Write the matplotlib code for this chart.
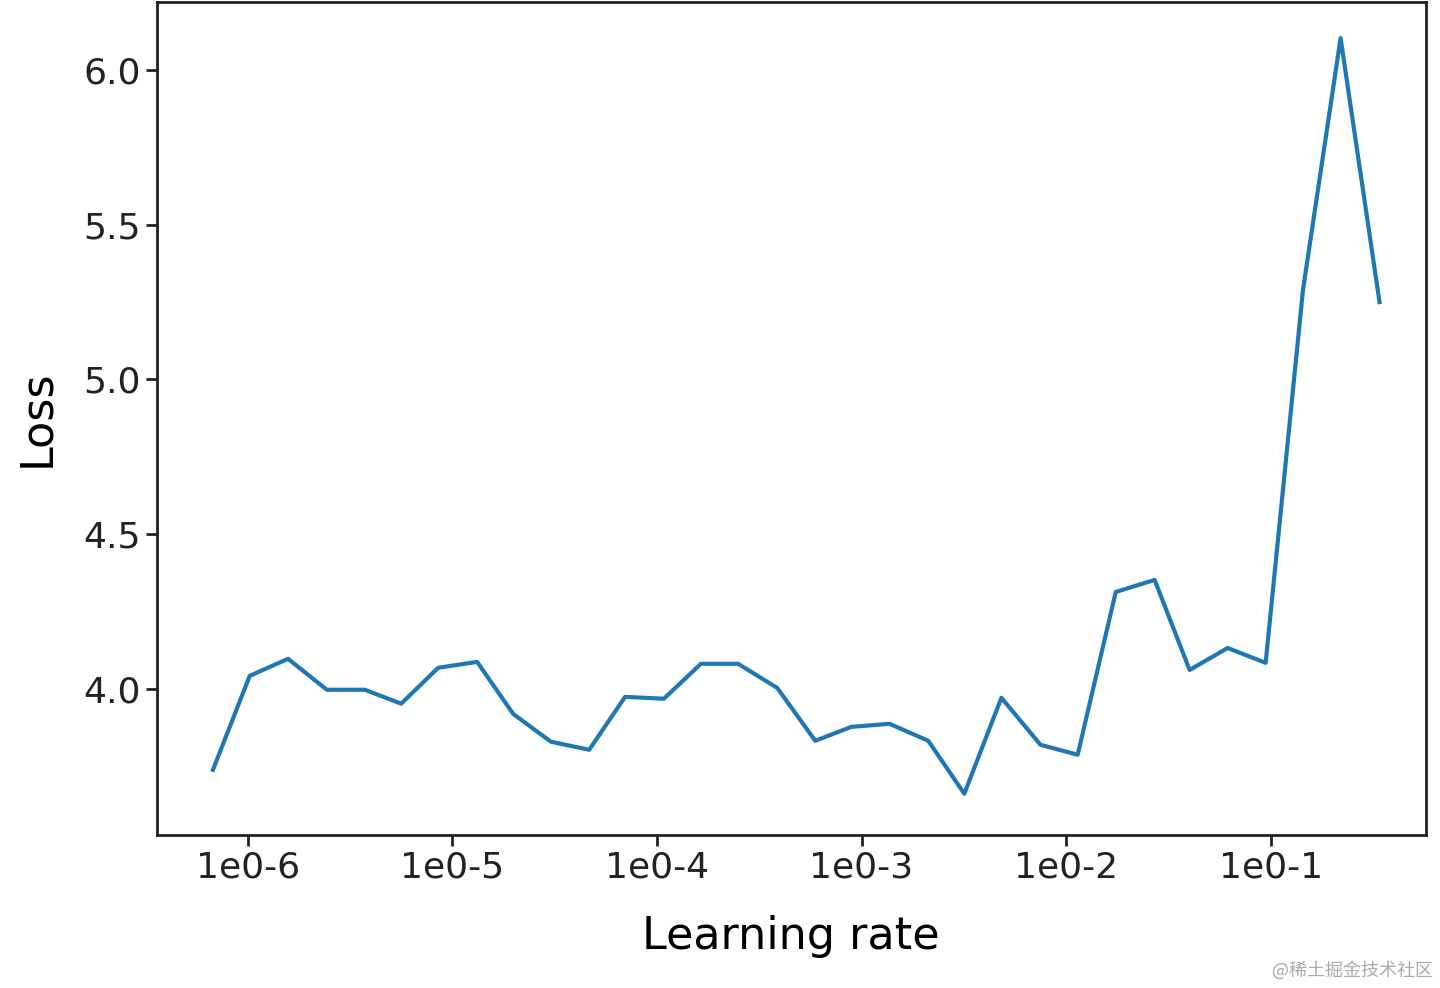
import matplotlib
matplotlib.use('Agg')
import matplotlib.pyplot as plt

lrs = [6.74e-7, 1.02e-6, 1.57e-6, 2.43e-6, 3.73e-6, 5.61e-6, 8.51e-6, 1.32e-5,
       1.98e-5, 3.03e-5, 4.66e-5, 6.98e-5, 1.08e-4, 1.64e-4, 2.49e-4, 3.87e-4,
       5.94e-4, 8.91e-4, 1.37e-3, 2.12e-3, 3.18e-3, 4.83e-3, 7.50e-3, 1.14e-2,
       1.75e-2, 2.71e-2, 4.02e-2, 6.17e-2, 9.46e-2, 0.144, 0.220, 0.341]
losses = [3.738, 4.042, 4.097, 3.997, 3.997, 3.952, 4.068, 4.087, 3.919, 3.829,
          3.803, 3.974, 3.968, 4.081, 4.081, 4.003, 3.832, 3.877, 3.887, 3.832,
          3.661, 3.971, 3.819, 3.787, 4.313, 4.352, 4.061, 4.132, 4.084, 5.289,
          6.103, 5.250]
xticks = [1e-6, 1e-5, 1e-4, 1e-3, 1e-2, 1e-1]
xticklabels = ['1e0-6', '1e0-5', '1e0-4', '1e0-3', '1e0-2', '1e0-1']
yticks = [4.0, 4.5, 5.0, 5.5, 6.0]

fig = plt.figure(figsize=(14.4, 9.88), dpi=100)
ax = fig.add_axes([0.109, 0.155, 0.881, 0.843])
ax.plot(lrs, losses, color='#1f77b4', linewidth=3)
ax.set_xscale('log')
ax.set_xlim(10**-6.445, 10**-0.242)
ax.set_ylim(3.528, 6.22)
ax.set_xticks(xticks)
ax.set_xticklabels(xticklabels)
ax.minorticks_off()
ax.set_yticks(yticks)
ax.set_yticklabels([f'{v:.1f}' for v in yticks])
ax.tick_params(labelsize=26, width=2, length=8, colors='#222222')
for s in ax.spines.values():
    s.set_linewidth(2)
    s.set_color('#222222')
ax.set_xlabel('Learning rate', fontsize=32, labelpad=22)
ax.set_ylabel('Loss', fontsize=32, labelpad=18)
fig.text(0.995, 0.008, '@稀土掘金技术社区', ha='right', va='bottom', fontsize=13,
         color='#aaaaaa', family=['Noto Sans CJK SC', 'DejaVu Sans'])
fig.savefig('out.png', dpi=100)
